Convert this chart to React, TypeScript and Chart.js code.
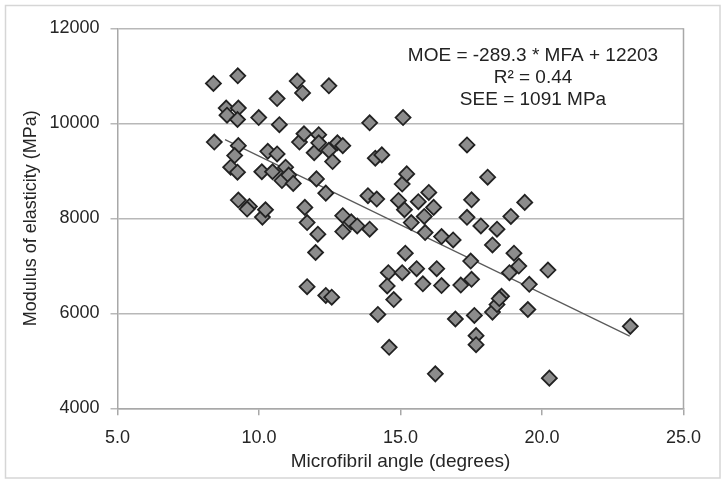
import { useEffect, useRef } from "react";
import { Chart, registerables } from "chart.js";

Chart.register(...registerables);

// Microfibril angle (degrees)
const MFA = [
  8.39, 8.42, 9.25, 8.84, 8.87, 9.27, 9.24, 9.27, 9.14, 9.0, 9.24, 9.27, 9.66, 9.58,
  9.99, 10.1, 10.12, 10.23, 10.31, 10.64, 10.72, 10.64, 10.48, 10.81, 10.94, 11.05,
  11.21, 11.35, 11.54, 11.43, 11.59, 11.62, 11.7, 11.7, 11.95, 12.03, 12.11, 12.11,
  12.08, 12.0, 12.36, 12.47, 12.47, 12.6, 12.36, 12.57, 12.77, 12.96, 12.96, 12.96,
  13.26, 13.47, 13.91, 13.91, 13.85, 14.16, 14.11, 14.34, 14.2, 14.57, 14.53, 14.6,
  14.76, 14.93, 15.06, 15.22, 15.14, 15.09, 15.17, 15.06, 15.38, 15.57, 15.63, 15.84,
  15.87, 15.79, 16.0, 16.17, 16.28, 16.45, 16.45, 16.23, 16.86, 16.94, 17.13, 17.35,
  17.35, 17.51, 17.48, 17.51, 17.61, 17.67, 17.67, 17.84, 18.08, 18.25, 18.41, 18.25,
  18.41, 18.57, 18.49, 18.85, 18.9, 19.01, 19.18, 19.39, 19.55, 19.5, 20.21, 20.26,
  23.12,
];

// Modulus of elasticity (MPa)
const MOE = [
  10840, 9605, 11000, 10320, 10170, 10320, 10080, 9530, 9320, 9075, 8970, 8385, 8250, 8195,
  10120, 8980, 8025, 8180, 9410, 10520, 9970, 9355, 8980, 8795, 9075, 8910,
  8735, 10890, 10640, 9605, 9780, 8230, 7910, 6560, 9380, 8830, 9760, 9590,
  7665, 7280, 8530, 10790, 9430, 9195, 6375, 6340, 9590, 9530, 8055, 7720,
  7925, 7840, 10010, 7770, 8475, 8405, 9265, 9335, 5975, 6855, 6575, 5285,
  6290, 8375, 8720, 8935, 8180, 10120, 7265, 6855, 7910, 6940, 8350, 8040,
  7700, 6620, 8545, 8230, 6940, 7615, 6585, 4725, 7545, 5880, 6595, 9545,
  8020, 8390, 7100, 6715, 5955, 5530, 5340, 7840, 8865, 7440, 7770, 6025,
  6185, 6360, 6310, 6855, 8040, 7265, 6995, 8335, 6610, 6080, 6910, 4635,
  5725,
];

// Regression line end points (MOE = -289.3 * MFA + 12203)
const TREND_MFA = [8.8, 23.1];
const TREND_MOE = [9657, 5520];

const ANNOTATION = ["MOE = -289.3 * MFA + 12203", "R\u00B2 = 0.44", "SEE = 1091 MPa"];

const X_TITLE = "Microfibril angle (degrees)";
const Y_TITLE = "Modulus of elasticity (MPa)";

const FONT = "'Liberation Sans', Arial, sans-serif";
const W = 726;
const H = 482;

export default function App() {
  const ref = useRef<HTMLCanvasElement | null>(null);

  useEffect(() => {
    if (!ref.current) return;

    const framePlugin = {
      id: "framePlugin",
      beforeDraw(chart: any) {
        const ctx = chart.ctx;
        ctx.save();
        ctx.fillStyle = "#ffffff";
        ctx.fillRect(0, 0, chart.width, chart.height);
        ctx.strokeStyle = "#d6d6d6";
        ctx.lineWidth = 1.5;
        ctx.strokeRect(5.5, 5.5, chart.width - 11.5, chart.height - 9.5);
        ctx.restore();
      },
      beforeDatasetsDraw(chart: any) {
        const { ctx, chartArea } = chart;
        ctx.save();
        ctx.strokeStyle = "#a8a8a8";
        ctx.lineWidth = 1.5;
        ctx.beginPath();
        ctx.moveTo(chartArea.right, chartArea.top);
        ctx.lineTo(chartArea.right, chartArea.bottom);
        ctx.stroke();
        ctx.restore();
      },
      afterDatasetsDraw(chart: any) {
        const { ctx, chartArea } = chart;
        ctx.save();
        ctx.fillStyle = "#222222";
        ctx.font = `19px ${FONT}`;
        ctx.textAlign = "center";
        ctx.textBaseline = "middle";
        const cx = chartArea.right - 150.5;
        ANNOTATION.forEach((t, i) => {
          ctx.fillText(t, cx, chartArea.top + 27 + i * 22);
        });
        ctx.restore();
      },
    };

    const chart = new Chart(ref.current, {
      type: "scatter",
      data: {
        datasets: [
          {
            type: "scatter",
            label: "MOE",
            data: MFA.map((x, i) => ({ x, y: MOE[i] })),
            pointStyle: "rectRot",
            pointRadius: 7.5,
            pointBackgroundColor: "#8c8c8c",
            pointBorderColor: "#222222",
            pointBorderWidth: 1.8,
            order: 1,
          } as any,
          {
            type: "line",
            label: "Trend",
            data: TREND_MFA.map((x, i) => ({ x, y: TREND_MOE[i] })),
            borderColor: "#5a5a5a",
            borderWidth: 1.2,
            pointRadius: 0,
            showLine: true,
            fill: false,
            order: 2,
          } as any,
        ],
      },
      options: {
        responsive: false,
        animation: false,
        devicePixelRatio: 1,
        layout: { padding: { left: 0, right: 42.5, top: 28.3, bottom: 0 } },
        plugins: {
          legend: { display: false },
          tooltip: { enabled: false },
        },
        scales: {
          x: {
            type: "linear",
            min: 5,
            max: 25,
            afterFit(scale: any) {
              scale.height = 73.7;
            },
            ticks: {
              stepSize: 5,
              padding: 11.5,
              color: "#262626",
              font: { family: FONT, size: 18 },
              callback: (v: any) => Number(v).toFixed(1),
            },
            grid: {
              drawOnChartArea: false,
              drawTicks: true,
              tickLength: 7,
              color: "#a8a8a8",
              lineWidth: 1.5,
            },
            border: { display: true, color: "#a8a8a8", width: 1.5 },
            title: {
              display: true,
              text: X_TITLE,
              color: "#262626",
              font: { family: FONT, size: 19 },
              padding: { top: 0, bottom: 9.2 },
            },
          },
          y: {
            type: "linear",
            min: 4000,
            max: 12000,
            afterFit(scale: any) {
              scale.width = 117.5;
            },
            ticks: {
              stepSize: 2000,
              padding: 11,
              color: "#262626",
              font: { family: FONT, size: 18 },
              callback: (v: any) => String(v),
            },
            grid: {
              drawTicks: true,
              tickLength: 7,
              color: "#b8b8b8",
              lineWidth: 1.5,
            },
            border: { display: true, color: "#a8a8a8", width: 1.5 },
            title: {
              display: true,
              text: Y_TITLE,
              color: "#262626",
              font: { family: FONT, size: 18 },
              padding: { top: 20, bottom: 0 },
            },
          },
        },
      },
      plugins: [framePlugin],
    });

    return () => chart.destroy();
  }, []);

  return (
    <div
      style={{
        position: "fixed",
        left: 0,
        top: 0,
        width: W,
        height: H,
        background: "#ffffff",
      }}
    >
      <canvas ref={ref} width={W} height={H} style={{ display: "block" }} />
    </div>
  );
}
